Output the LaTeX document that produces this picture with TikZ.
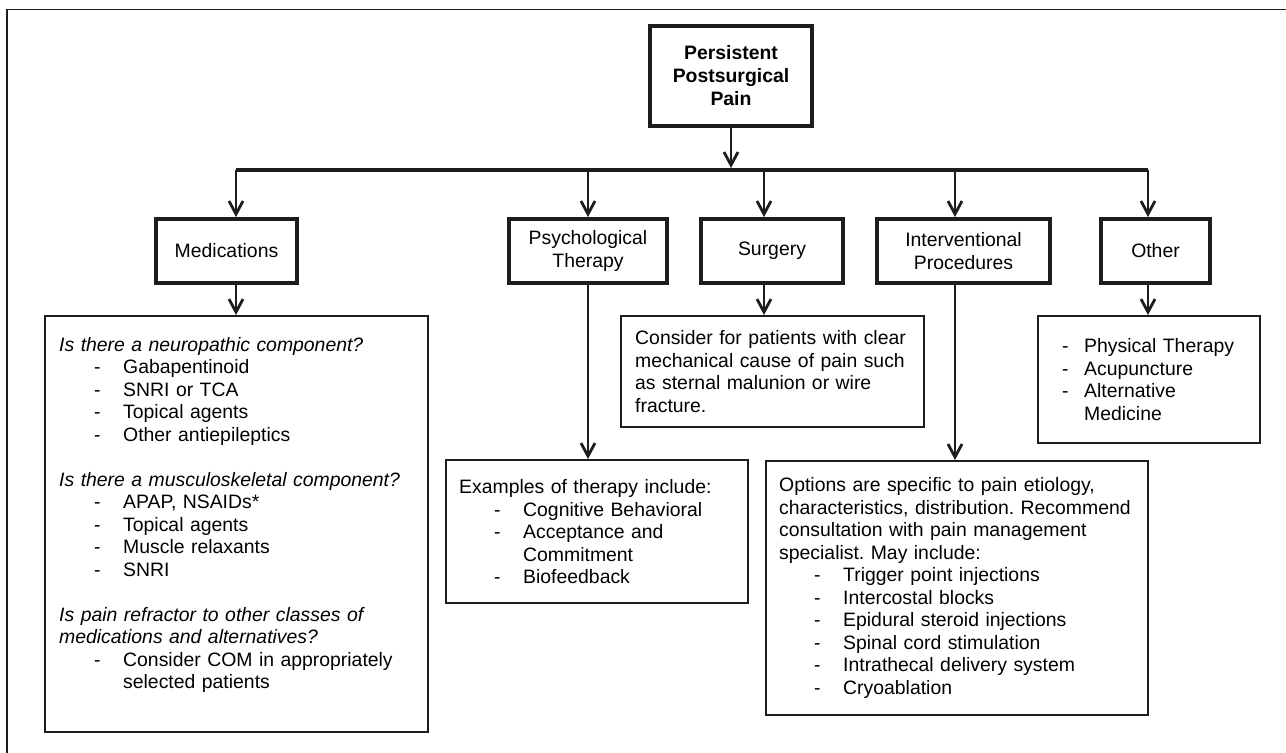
\documentclass[tikz,border=0pt]{standalone}
\usepackage{fontspec}
\setmainfont{Liberation Sans}
\usepackage{tikz}
\usetikzlibrary{positioning,arrows.meta,calc}
\frenchspacing
\definecolor{inkcolor}{RGB}{30,28,29}
\newcommand{\dashitem}[1]{\hspace*{17.5pt}\makebox[14.5pt][l]{-}#1}
\newcommand{\contline}[1]{\hspace*{32pt}#1}
\newcommand{\otheritem}[1]{\hspace*{5pt}\makebox[11pt][l]{-}#1}
\tikzset{
  root box/.style={
    draw=inkcolor,
    line width=2pt,
    minimum width=81pt,
    minimum height=50pt,
    align=center,
    inner sep=2pt,
    font=\fontsize{9.7}{11.5}\selectfont\bfseries
  },
  branch box/.style={
    draw=inkcolor,
    line width=2pt,
    minimum height=32pt,
    align=center,
    inner sep=2pt,
    font=\fontsize{9.7}{11.5}\selectfont
  },
  detail box/.style={
    draw=inkcolor,
    line width=1.2pt,
    align=left,
    inner xsep=7pt,
    inner ysep=2pt,
    anchor=north west,
    font=\fontsize{9.7}{11.25}\selectfont
  },
  arrow/.style={
    -{Straight Barb[length=6.5pt, width=7pt]},
    line width=1.4pt,
    draw=inkcolor
  },
  bar line/.style={line width=2.2pt, draw=inkcolor},
  frame line/.style={line width=0.6pt, draw=inkcolor}
}

\begin{document}
\begin{tikzpicture}[x=0.5pt, y=-0.5pt]
  \useasboundingbox (0,0) rectangle (1286,753);

  % Frame
  \draw[frame line] (7,753) -- (7,9.5) -- (1286,9.5);

  % Top
  \node[root box] (root) at (731,76) {Persistent\\Postsurgical\\Pain};

  % Branches
  \node[branch box, minimum width=70.5pt] (med) at (226.5,251) {Medications};
  \node[branch box, minimum width=79pt] (psy) at (588,251) {Psychological\\Therapy};
  \node[branch box, minimum width=71pt] (surg) at (772,251) {Surgery};
  \node[branch box, minimum width=86.5pt] (int) at (963.5,251) {Interventional\\Procedures};
  \node[branch box, minimum width=54.5pt] (oth) at (1155.5,251) {Other};

  % Details
  \node[detail box, text width=177.5pt, minimum height=208pt] (medbox) at (44,315) {%
    \textit{Is there a neuropathic component?}\\
    \dashitem{Gabapentinoid}\\
    \dashitem{SNRI or TCA}\\
    \dashitem{Topical agents}\\
    \dashitem{Other antiepileptics}\\[11.25pt]
    \textit{Is there a musculoskeletal component?}\\
    \dashitem{APAP, NSAIDs*}\\
    \dashitem{Topical agents}\\
    \dashitem{Muscle relaxants}\\
    \dashitem{SNRI}\\[11.25pt]
    \textit{Is pain refractor to other classes of}\\
    \textit{medications and alternatives?}\\
    \dashitem{Consider COM in appropriately}\\
    \contline{selected patients}\\
    ~};
  \node[detail box, inner xsep=6.5pt, text width=138pt, minimum height=71.5pt] (psybox) at (445,459) {%
    Examples of therapy include:\\
    \dashitem{Cognitive Behavioral}\\
    \dashitem{Acceptance and}\\
    \contline{Commitment}\\
    \dashitem{Biofeedback}};
  \node[detail box, text width=137.5pt, minimum height=55.5pt] (surgbox) at (620,315) {%
    Consider for patients with clear\\
    mechanical cause of pain such\\
    as sternal malunion or wire\\
    fracture.};
  \node[detail box, inner xsep=6.5pt, text width=178pt, minimum height=127pt] (intbox) at (765,460) {%
    Options are specific to pain etiology,\\
    characteristics, distribution. Recommend\\
    consultation with pain management\\
    specialist. May include:\\
    \dashitem{Trigger point injections}\\
    \dashitem{Intercostal blocks}\\
    \dashitem{Epidural steroid injections}\\
    \dashitem{Spinal cord stimulation}\\
    \dashitem{Intrathecal delivery system}\\
    \dashitem{Cryoablation}};
  \node[detail box, text width=97pt, minimum height=63.5pt] (othbox) at (1037,315) {%
    \otheritem{Physical Therapy}\\
    \otheritem{Acupuncture}\\
    \otheritem{Alternative}\\
    \hspace*{16pt}Medicine};

  % Bar and drops
  \coordinate (bartop) at (731,168);
  \coordinate (d1) at (236,170);
  \coordinate (d2) at (588,170);
  \coordinate (d3) at (764,170);
  \coordinate (d4) at (955,170);
  \coordinate (d5) at (1148,170);
  \draw[bar line] (d1) -- (d5);
  \draw[arrow] (root.south) -- (root.south |- bartop);
  \draw[arrow] (d1) -- (d1 |- med.north);
  \draw[arrow] (d2) -- (d2 |- psy.north);
  \draw[arrow] (d3) -- (d3 |- surg.north);
  \draw[arrow] (d4) -- (d4 |- int.north);
  \draw[arrow] (d5) -- (d5 |- oth.north);

  % Down to details
  \draw[arrow] (d1 |- med.south) -- (d1 |- medbox.north);
  \draw[arrow] (d2 |- psy.south) -- (d2 |- psybox.north);
  \draw[arrow] (d3 |- surg.south) -- (d3 |- surgbox.north);
  \draw[arrow] (d4 |- int.south) -- (d4 |- intbox.north);
  \draw[arrow] (d5 |- oth.south) -- (d5 |- othbox.north);

\end{tikzpicture}
\end{document}
